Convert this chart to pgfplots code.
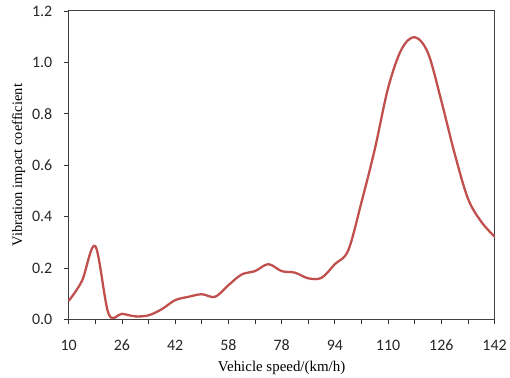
\documentclass[border=0pt]{standalone}
\usepackage{pgfplots}
\pgfplotsset{compat=1.18}
\usepackage{fontspec}
\setmainfont{Liberation Serif}
\newfontfamily\tickfont{Carlito}
\definecolor{curve}{HTML}{C0504D}
\begin{document}
\begin{tikzpicture}
\begin{axis}[
  name=ax,
  scale only axis,
  width=428pt, height=310pt,
  xmin=0, xmax=16, ymin=0, ymax=1.2,
  axis line style={black!75, line width=0.9pt},
  xtick={0,2,...,16},
  xticklabels={10,26,42,58,78,94,110,126,142},
  minor xtick={1,3,...,15},
  ytick={0,0.2,...,1.2},
  yticklabels={0.0,0.2,0.4,0.6,0.8,1.0,1.2},
  xtick pos=bottom, ytick pos=left,
  tick align=outside,
  major tick length=5pt, minor tick length=5pt,
  every tick/.style={black!80, line width=0.8pt},
  tick label style={font=\tickfont\fontsize{16}{18}\selectfont, text=black!85},
  xticklabel style={yshift=-12pt},
  yticklabel style={xshift=-8pt},
  xlabel={Vehicle speed/(km/h)},
  ylabel={Vibration impact coefficient},
  xlabel style={font=\fontsize{15}{17}\selectfont, yshift=-3pt},
  ylabel style={font=\fontsize{14.5}{16}\selectfont, yshift=0pt},
  clip=false,
]
\addplot[curve, line width=2.3pt, smooth, tension=0.55] coordinates {
(0,0.072) (0.5,0.150) (1.0,0.285) (1.5,0.022) (2.0,0.022) (2.5,0.012)
(3.0,0.016) (3.5,0.040) (4.0,0.075) (4.5,0.088) (5.0,0.098) (5.5,0.088)
(6.0,0.133) (6.5,0.175) (7.0,0.188) (7.5,0.215) (8.0,0.188) (8.5,0.182)
(9.0,0.160) (9.5,0.162) (10.0,0.215) (10.5,0.268) (11.0,0.456) (11.5,0.662)
(12.0,0.900) (12.5,1.050) (13.0,1.098) (13.5,1.036) (14.0,0.850) (14.5,0.645)
(15.0,0.470) (15.5,0.380) (16.0,0.322)
};
\end{axis}
\path ([shift={(-69pt,-56pt)}]ax.south west) rectangle ([shift={(13pt,11pt)}]ax.north east);
\end{tikzpicture}
\end{document}
